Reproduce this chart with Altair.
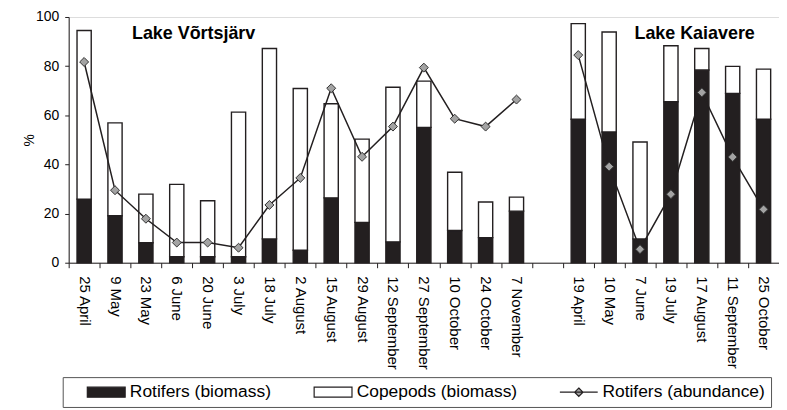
import altair as alt
import pandas as pd

FONT = "Liberation Sans"
INK = "#231f20"

# ---- data ----
vort_dates = ["25 April", "9 May", "23 May", "6 June", "20 June", "3 July", "18 July",
              "2 August", "15 August", "29 August", "12 September", "27 September",
              "10 October", "24 October", "7 November"]
vort_rotifers = [25.9, 19.1, 8.1, 2.4, 2.4, 2.4, 9.7, 5.1, 26.4, 16.4, 8.5, 55.1, 13.1, 10.2, 21.0]
vort_copepods = [68.6, 37.8, 19.8, 29.5, 22.8, 58.9, 77.5, 65.8, 38.3, 33.9, 62.9, 18.8, 23.7, 14.5, 5.7]
vort_abundance = [81.7, 29.5, 17.9, 8.2, 8.2, 6.1, 23.5, 34.5, 71.0, 43.1, 55.4, 79.4, 58.6, 55.4, 66.4]

kaia_dates = ["19 April", "10 May", "7 June", "19 July", "17 August", "11 September", "25 October"]
kaia_rotifers = [58.4, 53.2, 9.7, 65.5, 78.4, 68.9, 58.4]
kaia_copepods = [38.9, 40.7, 39.4, 22.8, 8.8, 11.0, 20.4]
kaia_abundance = [84.5, 39.1, 5.5, 27.9, 69.3, 43.0, 21.7]

gap = " "
x_domain = vort_dates + [gap] + kaia_dates

series_domain = ["Rotifers (biomass)", "Copepods (biomass)", "Rotifers (abundance)"]
series_fill = [INK, "#ffffff", "#a3a3a3"]

lake_titles = ["Lake Võrtsjärv", "Lake Kaiavere"]
lake_title_keys = ["23 May", "7 June"]
lake_title_y = [91, 91]

# ---- tables ----
bar_rows = []
line_rows = []
for lake, dates, rot, cop, ab in [
    ("Võrtsjärv", vort_dates, vort_rotifers, vort_copepods, vort_abundance),
    ("Kaiavere", kaia_dates, kaia_rotifers, kaia_copepods, kaia_abundance),
]:
    for i, (d, r, c, a) in enumerate(zip(dates, rot, cop, ab)):
        bar_rows.append(dict(key=d, series=series_domain[0], value=r, ord=0))
        bar_rows.append(dict(key=d, series=series_domain[1], value=c, ord=1))
        line_rows.append(dict(key=d, lake=lake, idx=i, abundance=a))

bars_df = pd.DataFrame(bar_rows)
line_df = pd.DataFrame(line_rows)

x_scale = alt.Scale(domain=x_domain, paddingInner=0, paddingOuter=0)
y_scale = alt.Scale(domain=[0, 100], nice=False)

x_axis = alt.Axis(title=None, labelAngle=90, labelAlign="left", labelBaseline="middle",
                  labelFont=FONT, labelFontSize=15, labelColor="#000",
                  tickBand="extent", tickSize=5, tickColor=INK, labelPadding=8,
                  domainColor=INK, grid=False)
y_axis = alt.Axis(title="%", values=[0, 20, 40, 60, 80, 100], tickSize=4, tickColor=INK,
                  labelPadding=6, labelFont=FONT, labelFontSize=14, labelColor="#000",
                  titleFont=FONT, titleFontSize=14, titleFontWeight="normal",
                  titleColor="#000", titleX=-32, domainColor=INK, grid=False)

# legend symbols: size 144 -> unit = 6 px
rect_path = "M-3.17,-0.83H3.17V0.83H-3.17Z"
line_path = "M-3.17,0H3.17M0,-0.7L0.7,0L0,0.7L-0.7,0Z"

legend = alt.Legend(
    title=None, orient="none", legendX=-6, legendY=362, direction="horizontal",
    symbolSize=144, symbolOffset=29,
    symbolType={"expr": f"datum.value === 'Rotifers (abundance)' ? '{line_path}' : '{rect_path}'"},
    symbolStrokeColor=INK, symbolStrokeWidth=1.2,
    labelFont=FONT, labelFontSize=17.5, labelColor="#000", labelOffset=15,
    labelLimit=400,
    columnPadding=24, padding=6, strokeColor="#555555", fillColor="#ffffff",
)

bars = alt.Chart(bars_df).mark_bar(
    width=alt.RelativeBandSize(0.46), stroke=INK, strokeWidth=1.4
).encode(
    x=alt.X("key:N", scale=x_scale, axis=x_axis),
    y=alt.Y("value:Q", stack="zero", scale=y_scale, axis=y_axis),
    fill=alt.Fill("series:N", scale=alt.Scale(domain=series_domain, range=series_fill),
                  legend=legend),
    order=alt.Order("ord:Q", sort="ascending"),
)

line = alt.Chart(line_df).mark_line(color=INK, strokeWidth=1.5).encode(
    x=alt.X("key:N", scale=x_scale),
    y=alt.Y("abundance:Q", scale=y_scale),
    detail="lake:N",
    order=alt.Order("idx:Q"),
)

points = alt.Chart(line_df).mark_point(
    shape="diamond", filled=True, size=81, fill="#a3a3a3", stroke="#333333",
    strokeWidth=1, opacity=1
).encode(
    x=alt.X("key:N", scale=x_scale),
    y=alt.Y("abundance:Q", scale=y_scale),
)

title_df = pd.DataFrame({"key": lake_title_keys, "y": lake_title_y, "label": lake_titles})

t1 = alt.Chart(title_df.iloc[[0]]).mark_text(
    align="left", baseline="alphabetic", fontSize=18, fontWeight="bold", font=FONT,
    color="#000", dx=-14
).encode(x=alt.X("key:N", scale=x_scale), y=alt.Y("y:Q", scale=y_scale), text="label:N")

t2 = alt.Chart(title_df.iloc[[1]]).mark_text(
    align="left", baseline="alphabetic", fontSize=18, fontWeight="bold", font=FONT,
    color="#000", dx=-5.6
).encode(x=alt.X("key:N", scale=x_scale), y=alt.Y("y:Q", scale=y_scale), text="label:N")

chart = alt.layer(bars, line, points, t1, t2).properties(
    width=714, height=247,
    autosize=alt.AutoSizeParams(type="none"),
    padding={"left": 61, "top": 8, "right": 0, "bottom": 146},
).configure_view(stroke=INK, strokeWidth=1).configure(font=FONT)

chart.save("out.html", embed_options={"renderer": "svg", "actions": False})
